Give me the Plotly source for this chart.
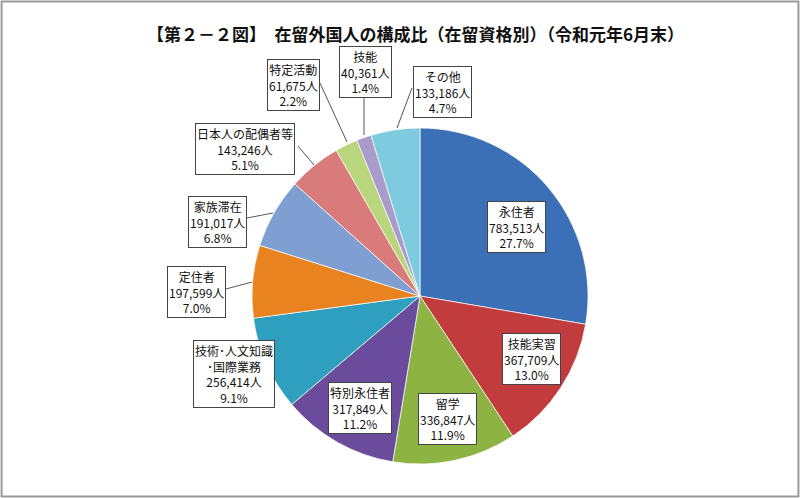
import plotly.graph_objects as go

W, H = 800, 498

categories = ["永住者", "技能実習", "留学", "特別永住者", "技術･人文知識<br>･国際業務",
              "定住者", "家族滞在", "日本人の配偶者等", "特定活動", "技能", "その他"]
people = [783513, 367709, 336847, 317849, 256414, 197599, 191017, 143246, 61675, 40361, 133186]
shares = [27.7, 13.0, 11.9, 11.2, 9.1, 7.0, 6.8, 5.1, 2.2, 1.4, 4.7]

colors = ["#3b6fb6", "#c23b3d", "#8db443", "#6b4c9c", "#2f9fbf", "#e8831f",
          "#7f9ed2", "#d97b7b", "#bad67c", "#a99bcb", "#7ecbe0"]

# label box centres (pixels) and leader lines (pixels)
label_pos = [(516, 227), (531, 359), (447, 419), (360, 408), (234, 374),
             (196, 292), (217, 222), (245, 149), (293, 85), (365, 72), (442, 92)]
leaders = [(226, 289, 252, 282), (247, 218, 273, 213), (298, 146, 314, 165),
           (320, 83, 347, 142), (364, 98, 364, 135), (412, 88, 397, 128)]

cx, cy, r = 420, 296, 168


def px(x):
    return x / W


def py(y):
    return 1 - y / H


fig = go.Figure(go.Pie(
    labels=categories, values=people, sort=False, direction="clockwise",
    rotation=0, textinfo="none", showlegend=False,
    marker=dict(colors=colors, line=dict(color="rgba(255,255,255,0.7)", width=1)),
    domain=dict(x=[px(cx - r), px(cx + r)], y=[py(cy + r), py(cy - r)]),
))

for x0, y0, x1, y1 in leaders:
    fig.add_shape(type="line", xref="paper", yref="paper",
                  x0=px(x0), y0=py(y0), x1=px(x1), y1=py(y1),
                  line=dict(color="#555", width=1))

for i, (name, n, s) in enumerate(zip(categories, people, shares)):
    x, y = label_pos[i]
    fig.add_annotation(
        x=px(x), y=py(y), xref="paper", yref="paper", showarrow=False,
        xanchor="center", yanchor="middle",
        text=f"{name}<br>{n:,}人<br>{s:.1f}%", align="center",
        font=dict(size=12, color="#111", family="Noto Sans CJK JP"),
        bgcolor="white", bordercolor="#444", borderwidth=1, borderpad=1,
    )

fig.add_annotation(
    x=px(415), y=py(33), xref="paper", yref="paper", showarrow=False,
    xanchor="center", yanchor="middle",
    text="<b>【第２－２図】　在留外国人の構成比（在留資格別）（令和元年6月末）</b>",
    font=dict(size=17, color="#111", family="Noto Sans CJK JP"),
)

# outer frame
fig.add_shape(type="rect", xref="paper", yref="paper", x0=0.002, y0=0.003, x1=0.998, y1=0.997,
              line=dict(color="#999", width=2))

fig.update_layout(width=W, height=H, margin=dict(l=0, r=0, t=0, b=0),
                  paper_bgcolor="white", plot_bgcolor="white")

fig.write_html("out.html", config={"displayModeBar": False},
               post_script="document.body.style.margin='0';")
